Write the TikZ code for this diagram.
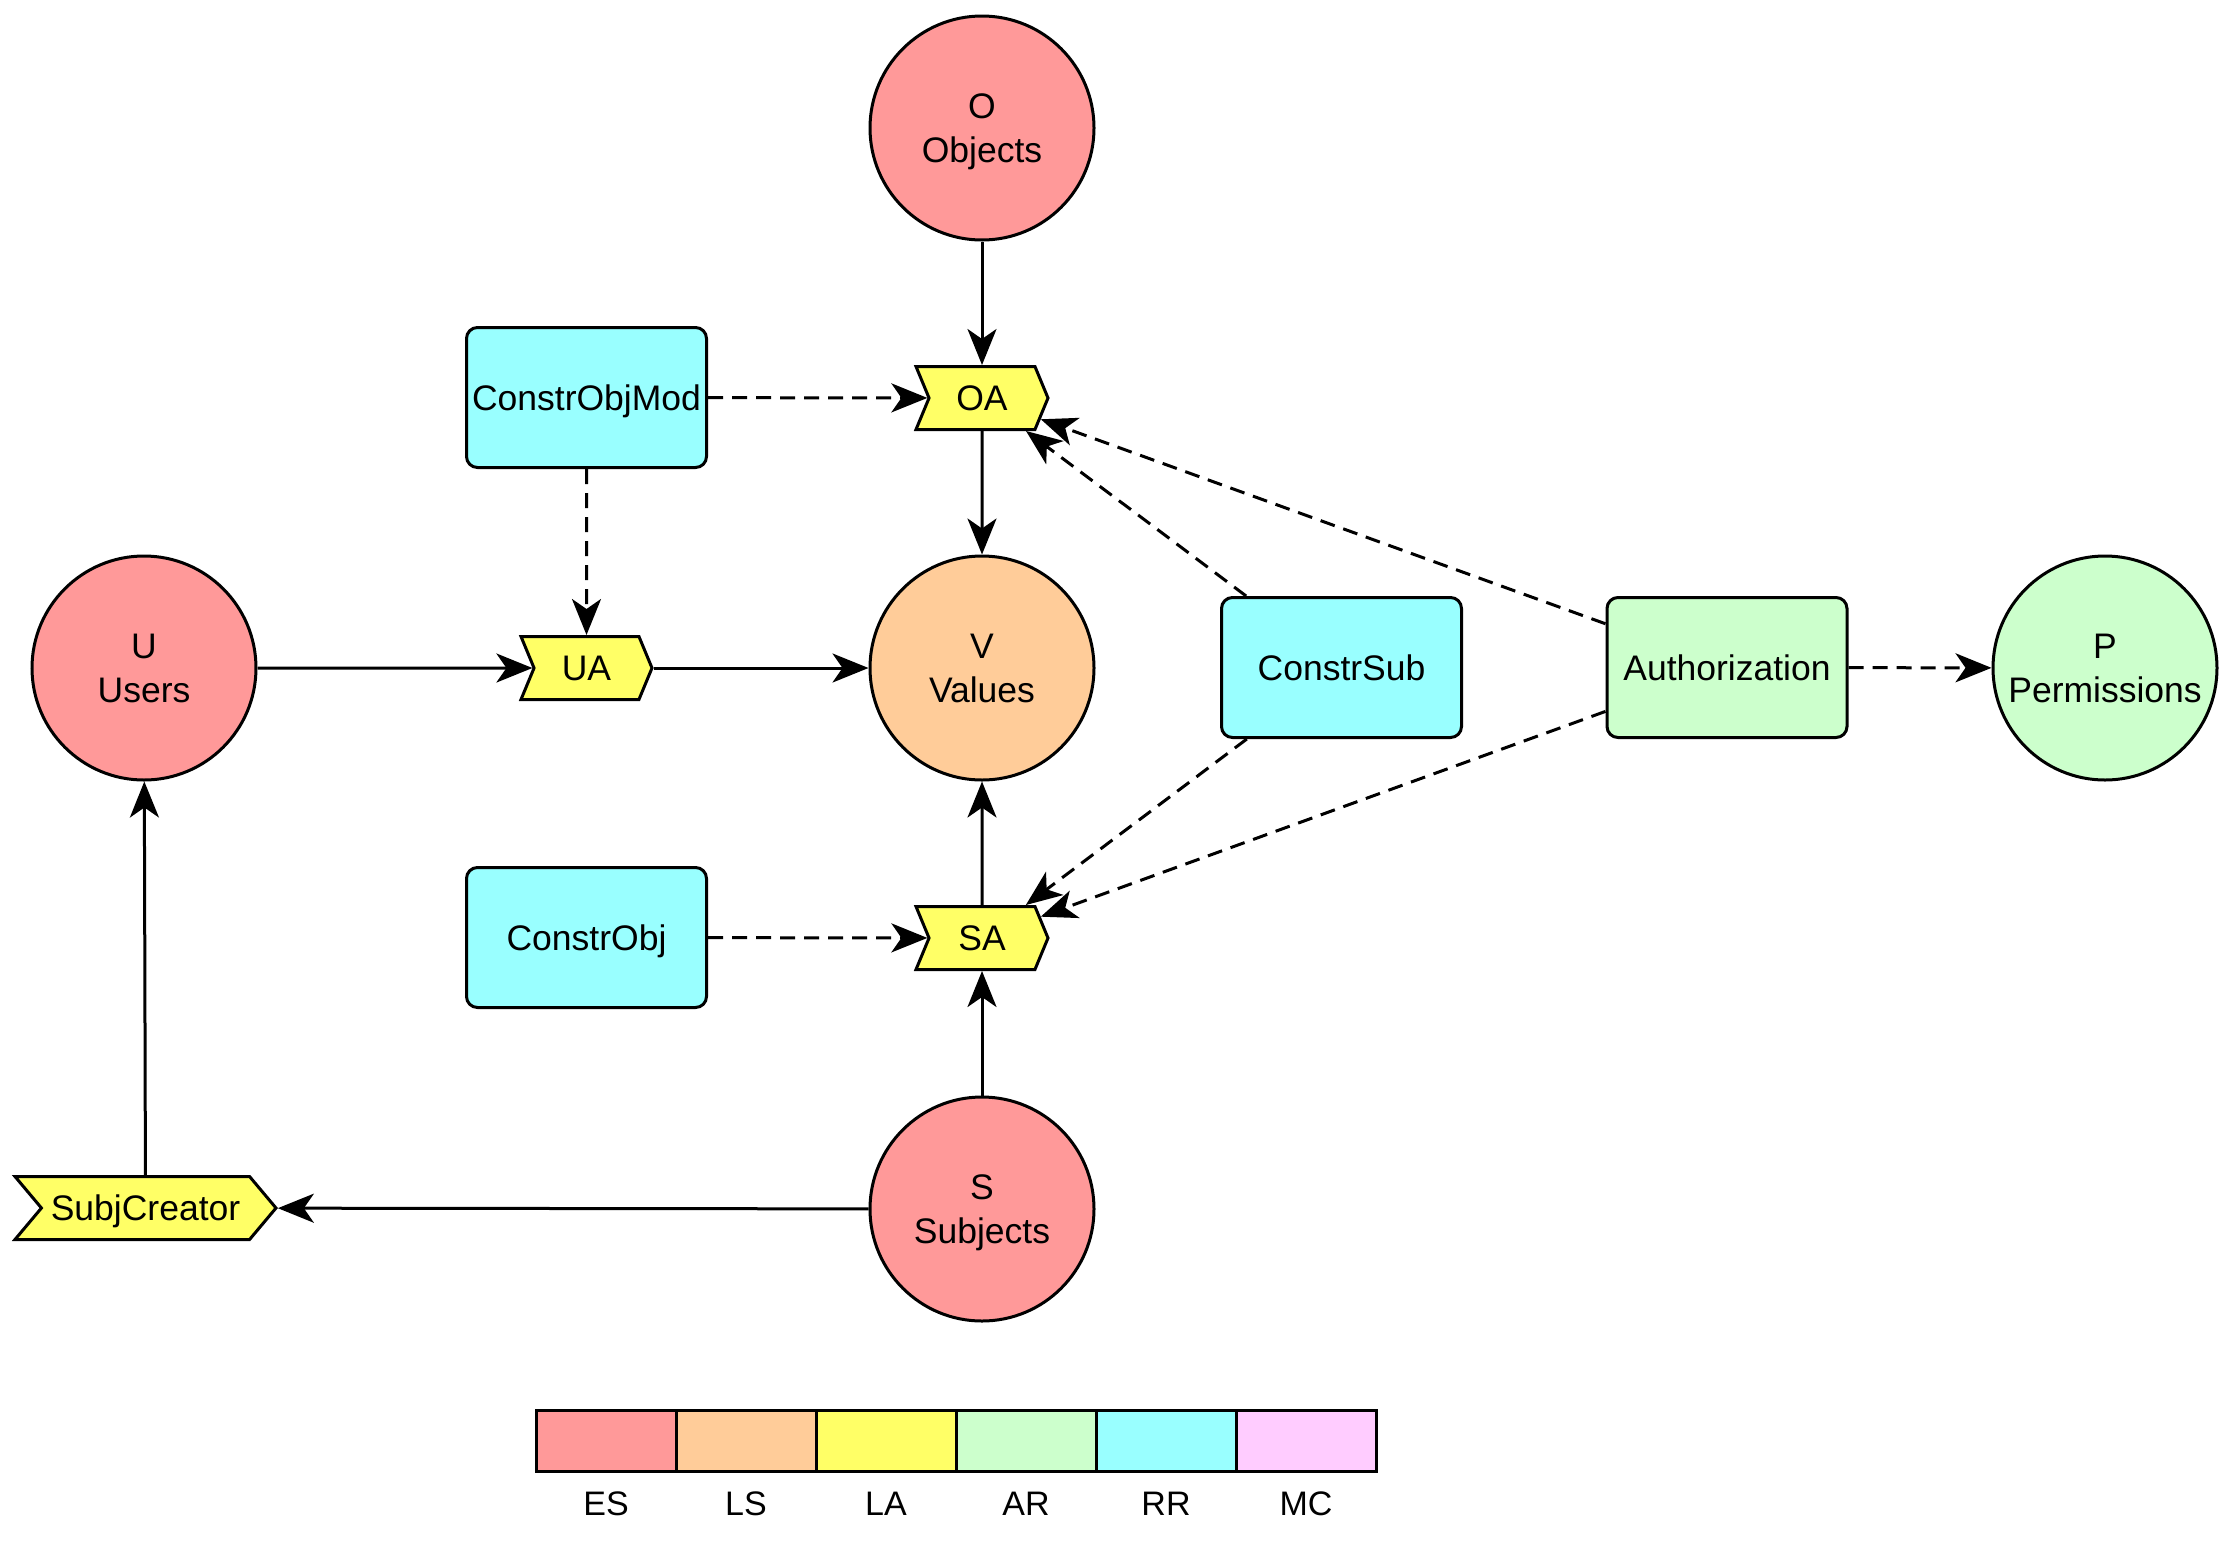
\documentclass[tikz,border=0pt]{standalone}
\usepackage{fontspec}
\setmainfont{Liberation Sans}
\usetikzlibrary{arrows.meta,shapes.symbols}

\definecolor{esc}{HTML}{FF9999}
\definecolor{lsc}{HTML}{FFCC99}
\definecolor{lac}{HTML}{FFFF66}
\definecolor{arc}{HTML}{CCFFCC}
\definecolor{rrc}{HTML}{99FFFF}
\definecolor{mcc}{HTML}{FFCCFF}

\begin{document}
\begin{tikzpicture}[x=1pt,y=-1pt,
  txt/.style={font=\fontsize{35.5}{44}\selectfont, align=center, inner sep=0pt, text depth=0pt},
  shp/.style={txt, draw, line width=3pt},
  entity/.style={shp, circle, minimum size=224pt},
  label tag/.style={shp, signal, signal from=west, signal to=east,
    signal pointer angle=#1, fill=lac, minimum height=63pt},
  rulebox/.style={shp, rectangle, rounded corners=11pt, minimum width=240pt,
    minimum height=140pt},
  link/.style={line width=3pt, -{Stealth[length=36pt,width=29pt,inset=10pt]}},
  dep/.style={link, dash pattern=on 15pt off 9pt},
  swatch/.style={draw, line width=3pt, minimum width=140pt, minimum height=61pt, inner sep=0pt},
  key/.style={txt, font=\fontsize{34}{40}\selectfont}
]
\useasboundingbox (0,0) rectangle (2235,1548);

% entity sets and value set
\node[entity, fill=esc] (O) at (982,128) {O\\Objects};
\node[entity, fill=esc] (U) at (144,668) {U\\Users};
\node[entity, fill=lsc] (V) at (982,668) {V\\Values};
\node[entity, fill=arc] (P) at (2105,668) {P\\Permissions};
\node[entity, fill=esc] (S) at (982,1209) {S\\Subjects};

% attribute tags
\node[label tag=135, minimum width=132pt] (OA) at (982,398) {OA};
\node[label tag=135, minimum width=131pt] (UA) at (586.5,668) {UA};
\node[label tag=135, minimum width=132pt] (SA) at (982,938) {SA};
\node[label tag=100, minimum width=261pt] (SC) at (145.5,1208) {SubjCreator};

% rule boxes
\node[rulebox, fill=rrc] (COM) at (586.5,397.5) {ConstrObjMod};
\node[rulebox, fill=rrc] (CO) at (586.5,937.5) {ConstrObj};
\node[rulebox, fill=rrc] (CS) at (1341.5,667.5) {ConstrSub};
\node[rulebox, fill=arc] (AU) at (1727,667.5) {Authorization};

% solid assignments
\draw[link] (O) -- (OA);
\draw[link] (OA) -- (V);
\draw[link] (U) -- (UA);
\draw[link] (UA) -- (V);
\draw[link] (SA) -- (V);
\draw[link] (S) -- (SA);
\draw[link] (S) -- (SC);
\draw[link] (SC) -- (U);

% dashed dependencies
\draw[dep] (COM) -- (OA);
\draw[dep] (COM) -- (UA);
\draw[dep] (CO) -- (SA);
\draw[dep] (CS) -- (OA);
\draw[dep] (CS) -- (SA);
\draw[dep] (AU) -- (OA);
\draw[dep] (AU) -- (SA);
\draw[dep] (AU) -- (P);

% colour key
\node[swatch, fill=esc] (k1) at (606,1440.5) {};
\node[swatch, fill=lsc] (k2) at (746,1440.5) {};
\node[swatch, fill=lac] (k3) at (886,1440.5) {};
\node[swatch, fill=arc] (k4) at (1026,1440.5) {};
\node[swatch, fill=rrc] (k5) at (1166,1440.5) {};
\node[swatch, fill=mcc] (k6) at (1306,1440.5) {};
\node[key] (t1) at (606,1504) {ES};
\node[key] (t2) at (746,1504) {LS};
\node[key] (t3) at (886,1504) {LA};
\node[key] (t4) at (1026,1504) {AR};
\node[key] (t5) at (1166,1504) {RR};
\node[key] (t6) at (1306,1504) {MC};
\end{tikzpicture}
\end{document}
